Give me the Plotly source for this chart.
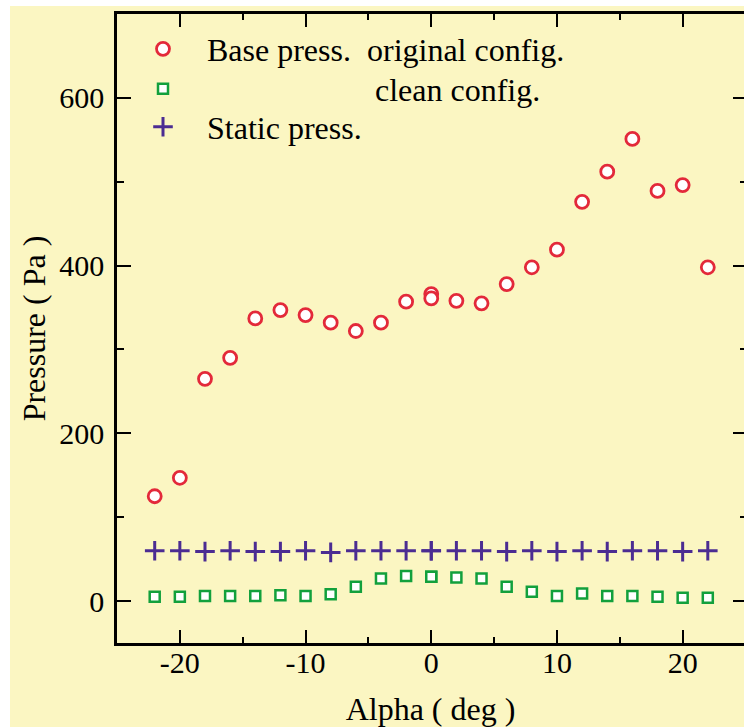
import plotly.graph_objects as go

# Angle of attack (deg); 0 was measured twice
alpha = [-22, -20, -18, -16, -14, -12, -10, -8, -6, -4, -2, 0, 0,
         2, 4, 6, 8, 10, 12, 14, 16, 18, 20, 22]

# Base pressure, original configuration (Pa)
base_original = [125, 147, 265, 290, 337, 347, 341, 332, 322, 332, 357, 366, 361,
                 358, 355, 378, 398, 419, 476, 512, 551, 489, 496, 398]

# Base pressure, clean configuration (Pa)
base_clean = [5, 5, 6, 6, 6, 7, 6, 8, 17, 27, 30, 29, 29,
              28, 27, 17, 11, 6, 9, 6, 6, 5, 4, 4]

# Static pressure (Pa)
static_press = [60, 60, 59, 60, 59, 59, 60, 58, 60, 60, 60, 60, 60,
                60, 60, 59, 60, 59, 60, 59, 60, 60, 59, 60]

y_ticks = [0, 200, 400, 600]
y_ticktext = ["0", "200", "400", "600"]
x_ticks = [-20, -10, 0, 10, 20]
x_ticktext = ["-20", "-10", "0", "10", "20"]

SERIF = "Liberation Serif, Times New Roman, serif"
BG = "#FBF6C2"
NB = "\u00a0"
LEGEND_FONT = dict(family=SERIF, size=32, color="black")

fig = go.Figure()

fig.add_trace(go.Scatter(
    x=alpha, y=base_original, mode="markers",
    name=NB * 3 + "Base press." + NB * 2 + "original config.",
    legend="legend",
    marker=dict(symbol="circle", size=13, color="white",
                line=dict(color="#E3293A", width=2.8)),
))
fig.add_trace(go.Scatter(
    x=alpha, y=base_clean, mode="markers",
    name=NB * 24 + "clean config.",
    legend="legend2",
    marker=dict(symbol="square", size=10, color="white",
                line=dict(color="#12A03C", width=2.5)),
))
fig.add_trace(go.Scatter(
    x=alpha, y=static_press, mode="markers",
    name=NB * 3 + "Static press.",
    legend="legend3",
    marker=dict(symbol="cross-thin", size=14, color="#4B2C92",
                line=dict(color="#4B2C92", width=3)),
))


def legend_box(ypix):
    # one legend row, centred on a pixel row of the plot area
    return dict(
        x=26 / 627, y=(643 - ypix) / 629, xanchor="left", yanchor="middle",
        bgcolor="rgba(0,0,0,0)", font=LEGEND_FONT, itemsizing="trace",
    )


axis_common = dict(
    showgrid=False, zeroline=False,
    ticks="inside", tickcolor="black", tickwidth=2,
    tickfont=dict(family=SERIF, size=30, color="black"),
    linecolor="black", linewidth=2.5, showline=True,
)

fig.update_layout(
    width=744, height=727,
    margin=dict(l=117, r=0, t=14, b=84),
    paper_bgcolor="white",
    plot_bgcolor="rgba(0,0,0,0)",
    font=dict(family=SERIF, color="black"),
    showlegend=True,
    legend=legend_box(49),
    legend2=legend_box(89),
    legend3=legend_box(127),
    xaxis=dict(
        **axis_common,
        range=[-25, 24.88],
        tickvals=x_ticks,
        ticktext=x_ticktext,
        ticklen=13,
        mirror="ticks",
        minor=dict(ticks="inside", dtick=5, tick0=0, ticklen=6,
                   tickwidth=2, tickcolor="black"),
        ticklabelstandoff=-9,
        title=dict(text="Alpha ( deg )", standoff=21,
                   font=dict(family=SERIF, size=32, color="black")),
    ),
    yaxis=dict(
        **axis_common,
        range=[-50, 700],
        tickvals=y_ticks,
        ticktext=y_ticktext,
        ticklen=14,
        minor=dict(ticks="inside", dtick=100, tick0=0, ticklen=7,
                   tickwidth=2, tickcolor="black"),
        ticklabelstandoff=4,
        title=dict(text="Pressure ( Pa )", standoff=5,
                   font=dict(family=SERIF, size=32, color="black")),
    ),
    # right-hand ticks without an axis line
    yaxis2=dict(
        overlaying="y", side="right", anchor="x",
        range=[-50, 700], tickvals=y_ticks,
        showgrid=False, zeroline=False, showline=False,
        ticks="inside", ticklen=11, tickwidth=2, tickcolor="black",
        showticklabels=False,
        minor=dict(ticks="inside", dtick=100, tick0=0, ticklen=4,
                   tickwidth=2, tickcolor="black"),
    ),
    shapes=[dict(
        type="rect", xref="paper", yref="paper",
        x0=(10 - 117) / 627, x1=1.0,
        y0=(643 - 727) / 629, y1=(643 - 6) / 629,
        fillcolor=BG, line=dict(width=0), layer="below",
    )],
)

# keep the overlay axis alive with an empty trace
fig.add_trace(go.Scatter(x=[], y=[], yaxis="y2", showlegend=False,
                         hoverinfo="skip"))

fig.write_html("out.html")
